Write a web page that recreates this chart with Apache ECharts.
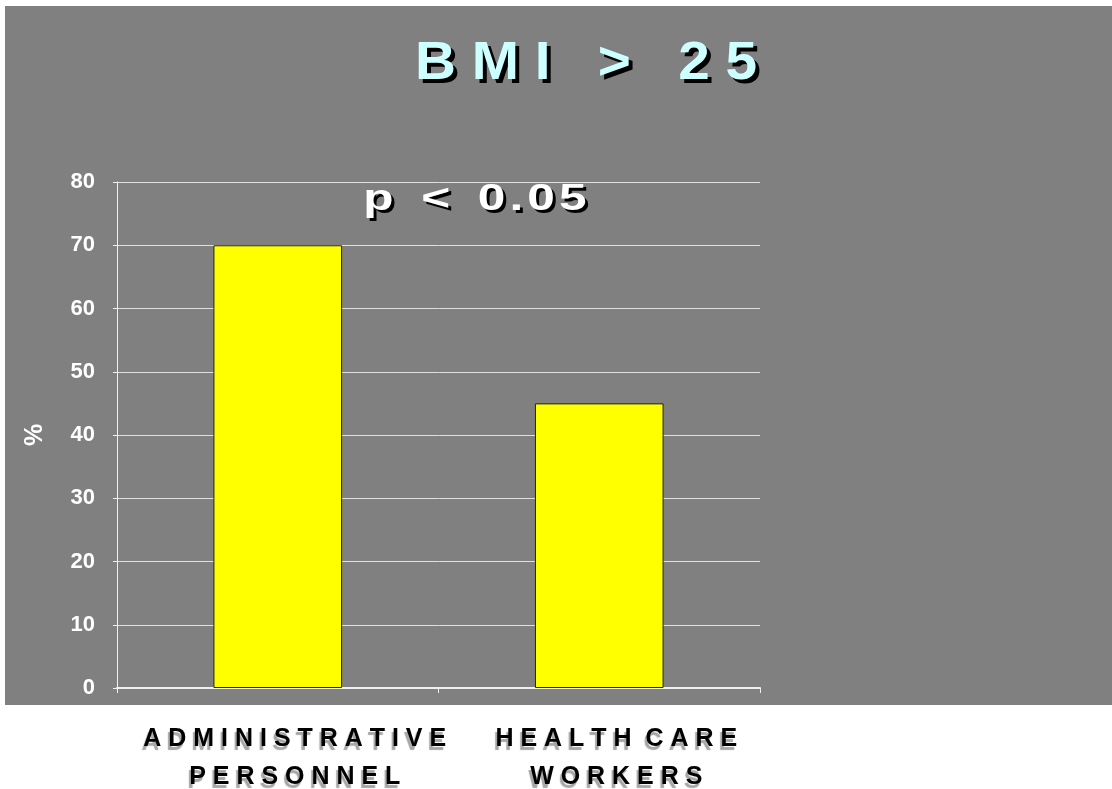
<!DOCTYPE html>
<html>
<head>
<meta charset="utf-8">
<script src="https://cdn.jsdelivr.net/npm/echarts@6/dist/echarts.min.js"></script>
<style>
html,body{margin:0;padding:0;background:#ffffff;}
#chart{width:1112px;height:789px;}
</style>
</head>
<body>
<div id="chart"></div>
<script>
// ---- data ----
const titleText = 'BMI > 25';
const noteText = 'p < 0.05';
const yAxisName = '%';
const categories = ['ADMINISTRATIVE\nPERSONNEL', 'HEALTH CARE\nWORKERS'];
const values = [70, 45];
const yTicks = [0, 10, 20, 30, 40, 50, 60, 70, 80];

function spaced(s, sep, wordSep) {
  return s.split('\n').map(line =>
    line.split(' ').map(w => w.split('').join(sep)).join(wordSep)
  ).join('\n');
}

function shadowText(text, x, y, font, fill, shadow, dx, dy, scaleX) {
  const base = {textAlign: 'center', textVerticalAlign: 'middle', font: font, text: text};
  return [
    {type: 'text', x: x + dx, y: y + dy, z: 9, scaleX: scaleX, style: Object.assign({}, base, {fill: shadow})},
    {type: 'text', x: x, y: y, z: 10, scaleX: scaleX, style: Object.assign({}, base, {fill: fill})}
  ];
}

const chart = echarts.init(document.getElementById('chart'), null, {renderer: 'canvas'});
const option = {
  backgroundColor: '#ffffff',
  animation: false,
  graphic: [
    {type: 'rect', left: 5, top: 6, z: -10, shape: {width: 1107, height: 699}, style: {fill: '#808080'}}
  ].concat(
    shadowText(spaced(titleText, ' ', '   '), 586, 64, 'bold 53px "Liberation Sans", Arial, sans-serif', '#ccffff', '#000000', 4, 4, 1.07),
    shadowText(spaced(noteText, '\u200A', '  '), 475, 200, 'bold 37px "Liberation Sans", Arial, sans-serif', '#ffffff', '#000000', 3, 3, 1.34)
  ),
  grid: {left: 117, right: 352, top: 182, bottom: 101, containLabel: false, outerBoundsMode: 'none'},
  xAxis: {
    type: 'category',
    data: categories,
    axisLine: {lineStyle: {color: '#f0f0f0', width: 2}},
    axisTick: {show: true, length: 5, lineStyle: {color: '#f0f0f0'}},
    axisLabel: {
      interval: 0, hideOverlap: false,
      color: '#000000', fontSize: 25, fontWeight: 'bold',
      fontFamily: '"Liberation Sans", Arial, sans-serif',
      lineHeight: 38, margin: 32, padding: [0, 0, 0, 34],
      textShadowColor: '#a6a6a6', textShadowOffsetX: -2, textShadowOffsetY: 4, textShadowBlur: 1,
      formatter: v => spaced(v, ' ', '  ')
    }
  },
  yAxis: {
    type: 'value',
    min: yTicks[0], max: yTicks[yTicks.length - 1], interval: yTicks[1] - yTicks[0],
    name: yAxisName, nameLocation: 'middle', nameRotate: 90, nameGap: 69,
    nameTextStyle: {color: '#ffffff', fontSize: 25, fontWeight: 'bold', fontFamily: '"Liberation Sans", Arial, sans-serif'},
    axisLine: {show: true, lineStyle: {color: '#f0f0f0', width: 1}},
    axisTick: {show: true, length: 4, lineStyle: {color: '#f0f0f0'}},
    splitLine: {show: true, lineStyle: {color: '#e0e0e0', width: 1}},
    axisLabel: {color: '#ffffff', fontSize: 22, fontWeight: 'bold', margin: 22,
      fontFamily: '"Liberation Sans", Arial, sans-serif'}
  },
  series: [{
    type: 'bar',
    data: values,
    barWidth: '40%',
    itemStyle: {color: '#ffff00', borderColor: '#222222', borderWidth: 1}
  }]
};
chart.setOption(option);
</script>
</body>
</html>
